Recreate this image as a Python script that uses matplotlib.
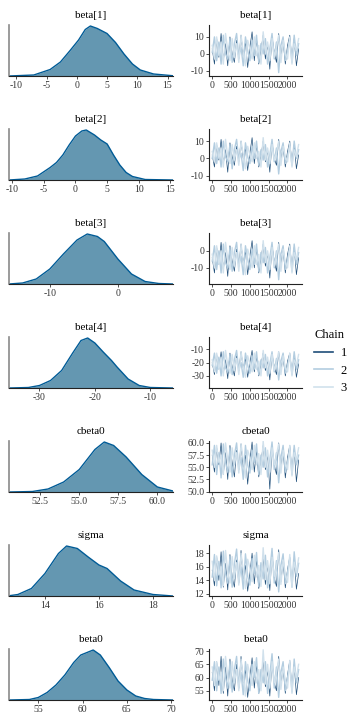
import numpy as np
import matplotlib
matplotlib.use('Agg')
import matplotlib.pyplot as plt
from matplotlib.lines import Line2D

plt.rcParams['font.family'] = ['Liberation Serif', 'DejaVu Serif']

# parametre isimleri
names = ['beta[1]', 'beta[2]', 'beta[3]', 'beta[4]', 'cbeta0', 'sigma', 'beta0']
chain_labels = ['1', '2', '3']
iter_ticks = [0, 500, 1000, 1500, 2000]

# yogunluk egrileri (okunan degerler, tepe = 1)
b1_grid = [-11.2, -7.1, -4.4, -2.7, -1.1, 0.3, 1.4, 2.25, 3.4, 5.0, 6.4, 7.8, 9.2, 10.5, 12.7, 15.9]
b1_dens = [0.0, 0.02, 0.13, 0.28, 0.51, 0.72, 0.93, 1.0, 0.95, 0.85, 0.67, 0.44, 0.24, 0.12, 0.04, 0.005]
b2_grid = [-10.5, -8, -6, -4, -3, -2, -1, 0, 1, 1.7, 3, 4, 5, 6, 7, 8, 9, 11, 15.4]
b2_dens = [0.0, 0.02, 0.08, 0.25, 0.35, 0.5, 0.7, 0.88, 0.98, 1.0, 0.9, 0.8, 0.72, 0.5, 0.3, 0.15, 0.07, 0.01, 0.0]
b3_grid = [-16, -14, -12, -10, -8, -6, -4.5, -3, -2, 0, 2, 4, 6, 8.1]
b3_dens = [0.0, 0.02, 0.1, 0.3, 0.6, 0.88, 1.0, 0.95, 0.85, 0.5, 0.2, 0.05, 0.01, 0.0]
b4_grid = [-35.5, -32, -30, -28, -26, -24, -22.5, -21.3, -20, -18.5, -17, -16, -14, -12, -10, -5.9]
b4_dens = [0.0, 0.01, 0.05, 0.15, 0.35, 0.7, 0.95, 1.0, 0.9, 0.72, 0.55, 0.42, 0.18, 0.05, 0.01, 0.0]
cb0_grid = [50.5, 52, 53, 54, 55, 56, 56.6, 57.2, 58, 59, 60, 61]
cb0_dens = [0.0, 0.01, 0.06, 0.2, 0.45, 0.85, 1.0, 0.93, 0.7, 0.35, 0.1, 0.02]
sig_grid = [12.67, 13, 13.5, 14, 14.5, 14.8, 15.2, 15.6, 16, 16.3, 16.8, 17.3, 18, 18.74]
sig_dens = [0.005, 0.03, 0.15, 0.45, 0.85, 1.0, 0.95, 0.78, 0.62, 0.55, 0.3, 0.12, 0.03, 0.0]
b0_grid = [51.7, 54, 55, 56, 57, 58, 59, 59.8, 60.5, 61.2, 62, 63, 64, 65, 66, 67, 68, 70.2]
b0_dens = [0.0, 0.01, 0.05, 0.15, 0.3, 0.5, 0.75, 0.9, 0.95, 1.0, 0.9, 0.65, 0.38, 0.2, 0.08, 0.03, 0.01, 0.0]

# iz grafikleri (her zincir icin okunan degerler)
b1_c1 = [3, -6, 9, -2, 12, -4, 6, -7, 10, 0, -5, 8, -3, 11, -1, 7, -8, 4, 13, -4, 9, -6, 2, 11, -3, 6, -9, 10, 1, -5, 12, -2, 8, -6, 5, 11, -4, 9, -7, 3]
b1_c2 = [1, 10, -4, 7, -6, 11, 0, -3, 9, -5, 6, 12, -2, 4, -7, 10, 2, -4, 8, -1, 11, -5, 6, 0, 9, -6, 3, 12, -3, 7, -11, 5, 10, -4, 2, 8, -5, 11, -1, 6]
b1_c3 = [5, -3, 10, -1, 7, -6, 12, 2, -4, 9, -2, 6, -5, 11, 1, -7, 8, 3, -3, 10, -1, 5, -6, 13, 0, 7, -4, 9, -2, 4, 11, -5, 8, 0, -3, 10, -6, 6, 2, 9]
b2_c1 = [2, -5, 8, -1, 11, -3, 5, -8, 9, 1, -4, 7, -2, 10, 0, 6, -7, 3, 12, -3, 8, -5, 1, 10, -2, 5, -8, 9, 0, -4, 11, -1, 7, -5, 4, 10, -3, 8, -6, 2]
b2_c2 = [0, 9, -3, 6, -5, 10, 1, -2, 8, -6, 5, 11, -1, 3, -7, 9, 1, -3, 7, 0, 10, -4, 5, -1, 8, -5, 2, 11, -2, 6, -9, 4, 9, -3, 1, 7, -4, 10, 0, 5]
b2_c3 = [4, -2, 9, 0, 6, -5, 11, 1, -3, 8, -1, 5, -4, 10, 2, -6, 7, 2, -2, 9, 0, 4, -5, 12, -1, 6, -3, 8, -1, 3, 10, -4, 7, 1, -2, 9, -5, 5, 1, 8]
b3_c1 = [-4, -13, 2, -8, 5, -11, -1, -15, 3, -6, -12, 1, -9, 4, -7, 0, -14, -3, 6, -10, 2, -13, -5, 4, -9, -1, -16, 3, -6, -12, 5, -8, 1, -13, -2, 4, -11, 2, -14, -4]
b3_c2 = [-6, 3, -11, 0, -13, 4, -7, -10, 2, -12, -1, 5, -9, -3, -14, 3, -5, -11, 1, -8, 4, -12, -1, -7, 2, -13, -4, 5, -10, 0, -17, -2, 3, -11, -5, 1, -12, 4, -8, -1]
b3_c3 = [-2, -10, 3, -8, 0, -13, 5, -5, -11, 2, -9, -1, -12, 4, -6, -14, 1, -4, -10, 3, -8, -2, -13, 6, -7, 0, -11, 2, -9, -3, 4, -12, 1, -7, -10, 3, -13, -1, -5, 2]
b4_c1 = [-20, -29, -14, -25, -12, -28, -18, -32, -13, -23, -30, -15, -26, -12, -24, -17, -31, -20, -11, -27, -15, -30, -22, -13, -26, -18, -33, -14, -23, -29, -12, -25, -16, -30, -19, -13, -28, -15, -31, -21]
b4_c2 = [-22, -13, -28, -16, -30, -12, -24, -27, -14, -29, -18, -11, -26, -20, -31, -13, -22, -28, -15, -25, -12, -29, -18, -24, -14, -30, -21, -12, -27, -17, -33, -19, -13, -28, -22, -15, -29, -12, -25, -18]
b4_c3 = [-18, -27, -13, -25, -16, -30, -11, -22, -28, -14, -26, -17, -29, -12, -23, -31, -15, -21, -27, -13, -25, -19, -30, -11, -24, -16, -28, -14, -26, -20, -12, -29, -15, -24, -27, -13, -30, -18, -22, -14]
cb0_c1 = [57.5, 54.0, 59.0, 55.5, 60.0, 53.5, 58.0, 52.5, 59.5, 56.0, 53.0, 58.5, 54.5, 59.8, 55.0, 57.5, 51.5, 56.5, 60.2, 54.0, 58.5, 53.0, 56.0, 59.5, 54.5, 57.8, 50.5, 59.0, 55.5, 53.5, 60.0, 55.0, 58.5, 52.8, 57.0, 59.5, 54.0, 58.8, 52.0, 56.5]
cb0_c2 = [55.5, 59.5, 53.5, 58.0, 52.8, 59.8, 56.0, 54.0, 59.0, 53.0, 57.5, 60.0, 54.5, 57.0, 52.5, 59.5, 55.5, 53.8, 58.5, 56.0, 59.8, 53.5, 57.5, 55.0, 59.0, 53.0, 56.5, 60.2, 54.5, 58.0, 51.8, 57.0, 59.5, 54.0, 56.0, 58.5, 53.5, 59.5, 55.5, 57.5]
cb0_c3 = [58.5, 55.0, 59.5, 56.0, 57.5, 53.5, 60.0, 56.5, 54.0, 59.0, 55.5, 58.0, 53.8, 59.8, 56.5, 52.8, 58.5, 57.0, 54.5, 59.5, 55.5, 57.8, 53.5, 60.4, 55.0, 58.5, 54.0, 59.0, 55.5, 57.5, 59.8, 53.8, 58.5, 56.0, 54.5, 59.5, 53.2, 58.0, 56.5, 59.0]
sig_c1 = [15.5, 13.2, 17.5, 14.0, 18.2, 13.0, 16.5, 12.6, 17.8, 14.5, 13.0, 17.0, 13.6, 18.4, 14.2, 16.2, 12.4, 15.0, 18.0, 13.5, 17.2, 12.8, 14.8, 17.6, 13.4, 16.4, 12.5, 17.9, 14.4, 13.1, 18.5, 13.8, 16.8, 12.9, 15.6, 17.4, 13.3, 17.1, 12.7, 15.0]
sig_c2 = [14.5, 17.8, 13.2, 16.8, 12.9, 18.3, 15.0, 13.6, 17.5, 13.0, 16.4, 18.6, 13.8, 16.0, 12.7, 17.9, 14.6, 13.3, 17.2, 15.0, 18.1, 13.1, 16.6, 14.2, 17.7, 12.9, 15.4, 18.7, 13.6, 16.9, 12.3, 16.2, 17.9, 13.5, 15.2, 17.3, 13.0, 18.2, 14.6, 16.5]
sig_c3 = [16.8, 14.0, 17.6, 14.8, 16.0, 13.2, 18.4, 15.2, 13.6, 17.5, 14.3, 16.6, 13.3, 18.0, 15.4, 12.8, 17.1, 15.8, 13.8, 17.7, 14.5, 16.2, 13.1, 18.8, 14.1, 16.9, 13.5, 17.4, 14.6, 15.9, 18.1, 13.4, 17.0, 14.9, 13.7, 17.8, 13.0, 16.7, 15.1, 17.3]
b0_c1 = [62, 55, 66, 57, 68, 54, 64, 53, 67, 59, 55, 65, 56, 68, 58, 63, 52.5, 60, 67.5, 56, 65, 54, 59, 67, 56.5, 63, 53, 66, 58, 55, 68, 57, 64, 54, 61, 66.5, 55.5, 65, 53.5, 60]
b0_c2 = [59, 66, 55, 64, 54, 67, 60, 56, 66, 54.5, 63, 68, 56, 62, 53.5, 66, 59, 55, 65, 60, 67.5, 54, 63, 58, 66, 54, 61, 69, 56, 64, 52.5, 62, 66, 55, 60, 65, 54.5, 67, 58, 63]
b0_c3 = [64, 57, 66, 59, 62, 55, 68, 60, 56, 66, 58, 63, 55, 67, 60, 53, 65, 61, 57, 66, 58, 63, 55, 70.5, 57.5, 65, 56, 66, 58, 62, 67, 55.5, 64, 59, 56, 66.5, 54, 64, 60, 65]

# eksen isaretleri
b1_dticks = [-10, -5, 0, 5, 10, 15]
b2_dticks = [-10, -5, 0, 5, 10, 15]
b3_dticks = [-10, 0]
b4_dticks = [-30, -20, -10]
cb0_dticks = [52.5, 55.0, 57.5, 60.0]
sig_dticks = [14, 16, 18]
b0_dticks = [55, 60, 65, 70]
b1_tticks = [-10, 0, 10]
b2_tticks = [-10, 0, 10]
b3_tticks = [-10, 0]
b4_tticks = [-30, -20, -10]
cb0_tticks = [50.0, 52.5, 55.0, 57.5, 60.0]
sig_tticks = [12, 14, 16, 18]
b0_tticks = [55, 60, 65, 70]

grids = [b1_grid, b2_grid, b3_grid, b4_grid, cb0_grid, sig_grid, b0_grid]
dens = [b1_dens, b2_dens, b3_dens, b4_dens, cb0_dens, sig_dens, b0_dens]
chains = [[b1_c1, b1_c2, b1_c3], [b2_c1, b2_c2, b2_c3], [b3_c1, b3_c2, b3_c3],
          [b4_c1, b4_c2, b4_c3], [cb0_c1, cb0_c2, cb0_c3], [sig_c1, sig_c2, sig_c3],
          [b0_c1, b0_c2, b0_c3]]
dticks = [b1_dticks, b2_dticks, b3_dticks, b4_dticks, cb0_dticks, sig_dticks, b0_dticks]
tticks = [b1_tticks, b2_tticks, b3_tticks, b4_tticks, cb0_tticks, sig_tticks, b0_tticks]

# eksen sinirlari
dlims = [(-11.2, 15.9), (-10.5, 15.4), (-16, 8.1), (-35.5, -5.9), (50.5, 61.0), (12.67, 18.74), (51.7, 70.2)]
tlims = [(-13, 17), (-12.5, 17), (-19.5, 10.5), (-39, -1), (49.9, 60.4), (11.7, 19.2), (51.5, 70.8)]
one_dec = [False, False, False, False, True, False, False]

chain_cols = ['#1f4e79', '#b3cde0', '#d1e1ec']
chain_lw = [0.5, 1.0, 1.0]

W, H = 360, 720
fig = plt.figure(figsize=(3.6, 7.2), dpi=100)

def fmt(v, dec):
    return '%.1f' % v if dec else '%d' % v

for k in range(7):
    bot = 1 - (76 + 104 * k) / H
    h = 51 / H
    # yogunluk
    ax = fig.add_axes([9 / W, bot, 164 / W, h])
    ax.fill_between(grids[k], dens[k], color='#6497b1', lw=0)
    ax.plot(grids[k], dens[k], color='#005b96', lw=1)
    ax.set_xlim(*dlims[k])
    ax.set_ylim(0, 1.02)
    ax.set_yticks([])
    ax.set_xticks(dticks[k])
    ax.set_xticklabels([fmt(v, one_dec[k]) for v in dticks[k]])
    ax.tick_params(axis='x', labelsize=7, length=2, width=0.6, pad=1.5, colors='#333333')
    for s in ['top', 'right']:
        ax.spines[s].set_visible(False)
    ax.spines['left'].set_color('#8a8a8a')
    ax.spines['left'].set_linewidth(1.2)
    ax.spines['bottom'].set_color('#222222')
    ax.spines['bottom'].set_linewidth(0.8)
    ax.set_title(names[k], fontsize=8, pad=5)

    # iz grafigi
    ax2 = fig.add_axes([209 / W, bot, 93 / W, h])
    for c, col, lw in zip(chains[k], chain_cols, chain_lw):
        it = np.linspace(1, 2300, len(c))
        ax2.plot(it, c, color=col, lw=lw)
    ax2.set_xlim(-85, 2390)
    ax2.set_ylim(*tlims[k])
    ax2.set_xticks(iter_ticks)
    ax2.set_xticklabels([str(v) for v in iter_ticks])
    ax2.set_yticks(tticks[k])
    ax2.set_yticklabels([fmt(v, one_dec[k]) for v in tticks[k]])
    ax2.tick_params(labelsize=7, length=2, width=0.6, pad=1.5, colors='#333333')
    for s in ['top', 'right']:
        ax2.spines[s].set_visible(False)
    for s in ['left', 'bottom']:
        ax2.spines[s].set_color('#222222')
        ax2.spines[s].set_linewidth(0.8)
    ax2.set_title(names[k], fontsize=8, pad=5)

handles = [Line2D([0], [0], color=c, lw=1.2) for c in chain_cols]
leg = fig.legend(handles, chain_labels, title='Chain', loc='upper left',
                 bbox_to_anchor=(303 / W, 1 - 318 / H), frameon=False,
                 fontsize=9, title_fontsize=9, handlelength=1.5,
                 handletextpad=0.6, labelspacing=0.45)
leg._legend_box.align = 'left'

fig.savefig('out.png', dpi=100)
